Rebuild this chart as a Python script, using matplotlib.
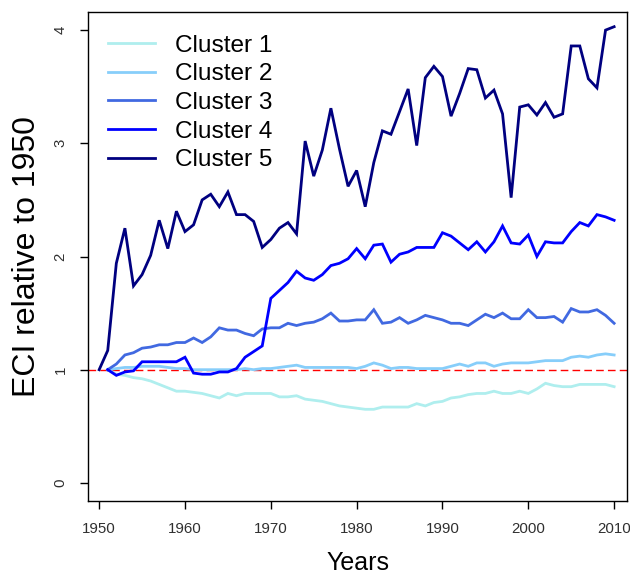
import matplotlib
matplotlib.use("Agg")
import matplotlib.pyplot as plt
import numpy as np

plt.rcParams['font.family'] = ['Liberation Sans', 'DejaVu Sans']

years5 = list(range(1950, 2011))
years = list(range(1951, 2011))

cluster5 = [1.00, 1.17, 1.94, 2.25, 1.74, 1.84, 2.01, 2.32, 2.07, 2.40,
            2.22, 2.28, 2.50, 2.55, 2.44, 2.57, 2.37, 2.37, 2.31, 2.08,
            2.15, 2.25, 2.30, 2.20, 3.02, 2.71, 2.94, 3.31, 2.95, 2.62,
            2.76, 2.44, 2.83, 3.11, 3.08, 3.28, 3.48, 2.98, 3.58, 3.68,
            3.59, 3.24, 3.44, 3.66, 3.65, 3.40, 3.47, 3.26, 2.52, 3.32,
            3.34, 3.25, 3.36, 3.23, 3.26, 3.86, 3.86, 3.57, 3.49, 4.00,
            4.03]

cluster4 = [1.00, 0.95, 0.98, 0.99, 1.07, 1.07, 1.07, 1.07, 1.07, 1.11,
            0.97, 0.96, 0.96, 0.98, 0.98, 1.01, 1.11, 1.16, 1.21, 1.63,
            1.70, 1.77, 1.87, 1.81, 1.79, 1.84, 1.92, 1.94, 1.98, 2.07,
            1.98, 2.10, 2.11, 1.95, 2.02, 2.04, 2.08, 2.08, 2.08, 2.21,
            2.18, 2.12, 2.06, 2.13, 2.04, 2.13, 2.27, 2.12, 2.11, 2.19,
            2.00, 2.13, 2.12, 2.12, 2.22, 2.30, 2.27, 2.37, 2.35, 2.32]

cluster3 = [1.00, 1.05, 1.13, 1.15, 1.19, 1.20, 1.22, 1.22, 1.24, 1.24,
            1.28, 1.24, 1.29, 1.37, 1.35, 1.35, 1.32, 1.30, 1.36, 1.37,
            1.37, 1.41, 1.39, 1.41, 1.42, 1.45, 1.50, 1.43, 1.43, 1.44,
            1.44, 1.53, 1.41, 1.42, 1.46, 1.41, 1.44, 1.48, 1.46, 1.44,
            1.41, 1.41, 1.39, 1.44, 1.49, 1.46, 1.50, 1.45, 1.45, 1.53,
            1.46, 1.46, 1.47, 1.42, 1.54, 1.51, 1.51, 1.53, 1.48, 1.41]

cluster2 = [1.00, 1.01, 1.02, 1.02, 1.03, 1.03, 1.03, 1.02, 1.01, 1.01,
            1.00, 1.00, 1.00, 1.00, 1.00, 1.00, 1.01, 1.00, 1.01, 1.01,
            1.02, 1.03, 1.04, 1.02, 1.02, 1.02, 1.02, 1.02, 1.02, 1.01,
            1.03, 1.06, 1.04, 1.01, 1.02, 1.02, 1.01, 1.01, 1.01, 1.01,
            1.03, 1.05, 1.03, 1.06, 1.06, 1.03, 1.05, 1.06, 1.06, 1.06,
            1.07, 1.08, 1.08, 1.08, 1.11, 1.12, 1.11, 1.13, 1.14, 1.13]

cluster1 = [1.00, 0.96, 0.95, 0.93, 0.92, 0.90, 0.87, 0.84, 0.81, 0.81,
            0.80, 0.79, 0.77, 0.75, 0.79, 0.77, 0.79, 0.79, 0.79, 0.79,
            0.76, 0.76, 0.77, 0.74, 0.73, 0.72, 0.70, 0.68, 0.67, 0.66,
            0.65, 0.65, 0.67, 0.67, 0.67, 0.67, 0.70, 0.68, 0.71, 0.72,
            0.75, 0.76, 0.78, 0.79, 0.79, 0.81, 0.79, 0.79, 0.81, 0.79,
            0.83, 0.88, 0.86, 0.85, 0.85, 0.87, 0.87, 0.87, 0.87, 0.85]

labels = ["Cluster 1", "Cluster 2", "Cluster 3", "Cluster 4", "Cluster 5"]
colors = ["#AFEEEE", "#87CEFA", "#4169E1", "#0000FF", "#000080"]
xticks = [1950, 1960, 1970, 1980, 1990, 2000, 2010]
yticks = [0, 1, 2, 3, 4]

fig = plt.figure(figsize=(6.3, 5.76), dpi=100)
ax = fig.add_axes([88/630, 1 - 501/576, (627-88)/630, (501-12)/576])

series = [(years, cluster1), (years, cluster2), (years, cluster3),
          (years, cluster4), (years5, cluster5)]
for (xs, ys), lab, col in zip(series, labels, colors):
    ax.plot(xs, ys, color=col, lw=2.0, label=lab, solid_joinstyle='miter')

ax.axhline(1, color='red', lw=1.0, ls=(0, (5.5, 3)), zorder=0.5)

ax.set_xlim(1948.7, 2011.5)
ax.set_ylim(-0.16, 4.16)
ax.set_xticks(xticks)
ax.set_yticks(yticks)
ax.set_xticklabels([str(v) for v in xticks], fontsize=10.8, color='#303030')
ax.set_yticklabels([str(v) for v in yticks], fontsize=10.8, color='#303030',
                   rotation=90, va='center')
ax.tick_params(direction='out', length=5.8, width=1, pad=9)
for s in ax.spines.values():
    s.set_linewidth(1.0)

ax.set_xlabel("Years", fontsize=18, labelpad=11)
ax.set_ylabel("ECI relative to 1950", fontsize=23, labelpad=8)

leg = ax.legend(loc='upper left', frameon=False, fontsize=17.6,
                bbox_to_anchor=(0.0, 0.995), handlelength=1.93,
                handletextpad=0.82, labelspacing=0.27, borderaxespad=0.42)

fig.savefig("out.png", dpi=100)
